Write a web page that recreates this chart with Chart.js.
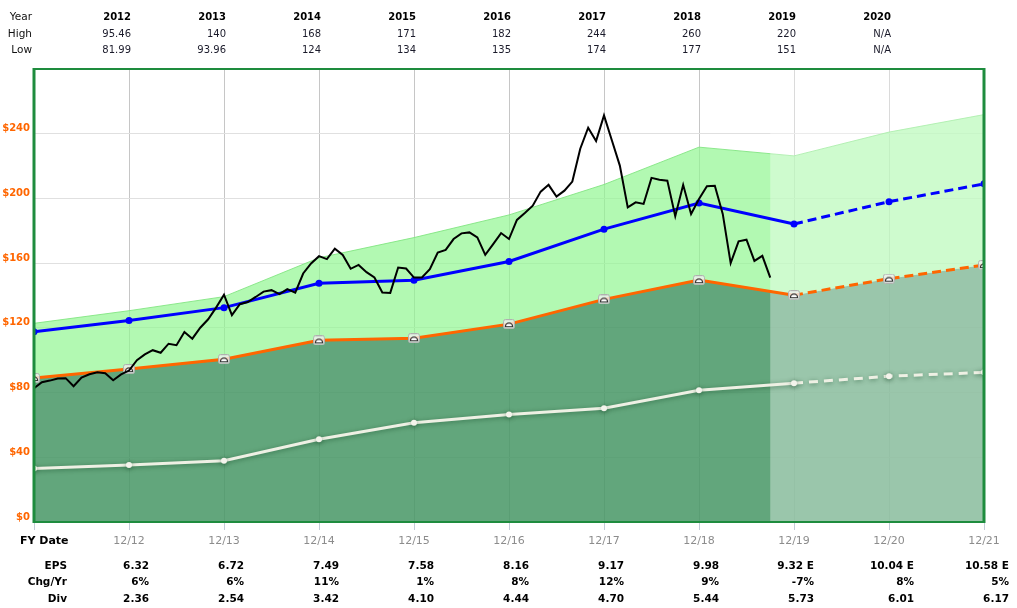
<!DOCTYPE html>
<html>
<head>
<meta charset="utf-8">
<script src="https://cdn.jsdelivr.net/npm/chart.js@4.4.1/dist/chart.umd.min.js"></script>
<style>
  html, body { margin: 0; padding: 0; background: #fff; }
  #wrap { position: relative; width: 1017px; height: 608px; }
</style>
</head>
<body>
<div id="wrap"><canvas id="c"></canvas></div>
<script>
// ---------- data ----------
const fyLabels = ['12/11','12/12','12/13','12/14','12/15','12/16','12/17','12/18','12/19','12/20','12/21'];
const topYears = ['2012','2013','2014','2015','2016','2017','2018','2019','2020'];
const topHigh  = ['95.46','140','168','171','182','244','260','220','N/A'];
const topLow   = ['81.99','93.96','124','134','135','174','177','151','N/A'];
const epsLabels = ['6.32','6.72','7.49','7.58','8.16','9.17','9.98','9.32 E','10.04 E','10.58 E'];
const chgLabels = ['6%','6%','11%','1%','8%','12%','9%','-7%','8%','5%'];
const divLabels = ['2.36','2.54','3.42','4.10','4.44','4.70','5.44','5.73','6.01','6.17'];
const firstEstimate = 8; // index of 12/19 in fyLabels

const bandTop    = [122.8,130.6,139.3,163.3,175.8,189.8,208.6,231.7,226.3,241.0,251.8];
const normalPE   = [117.6,124.5,132.5,147.6,149.5,161.0,181.0,197.2,184.2,198.0,209.0];
const earnings15 = [89.0,94.5,100.6,112.3,113.6,122.3,137.6,149.5,140.2,150.4,158.8];
const dividends  = [33.0,35.3,37.9,51.1,61.4,66.5,70.3,81.4,85.8,90.1,92.5];
// monthly closing price, starting 12/11
const priceVals = [82.7,86.4,87.4,88.7,88.9,83.9,89.3,91.3,92.6,92.0,
  87.6,91.2,93.6,100.0,103.6,106.2,104.6,110.2,109.3,117.4,
  113.3,120.1,125.3,132.5,140.5,127.9,134.6,136.0,139.1,142.4,
  143.3,140.8,143.9,141.8,153.6,159.8,164.3,162.5,168.9,165.1,
  156.5,158.9,154.4,151.1,141.8,141.6,157.3,156.7,151.1,151.1,
  156.3,166.6,168.2,174.9,178.4,179.0,175.9,165.1,171.8,178.6,
  174.9,186.7,191.0,195.5,204.2,208.4,201.1,204.8,210.4,230.7,
  243.7,235.5,251.3,235.8,220.3,194.5,197.6,196.6,212.7,211.5,
  211.0,189.0,208.4,190.4,199.7,207.6,207.8,190.4,160.0,173.5,
  174.5,161.4,164.5,151.1];
const yTicks = [0,40,80,120,160,200,240];
const yMax = 280;

// ---------- helpers ----------
const FONT = '"DejaVu Sans", Verdana, sans-serif';
const pts = arr => arr.map((v,i) => ({x:i, y:v}));
const pricePts = priceVals.map((v,i) => ({x:i/12, y:v}));
const dashAfter = (dash) => ({ borderDash: c => c.p0DataIndex >= firstEstimate ? dash : undefined });

// dome marker for the earnings line
const marker = (() => {
  const c = document.createElement('canvas'); c.width = 12; c.height = 10;
  const g = c.getContext('2d');
  g.fillStyle = 'rgba(240,240,240,0.8)'; g.strokeStyle = '#b0b0b0'; g.lineWidth = 1;
  g.beginPath(); g.roundRect(0.5,0.5,11,9,2); g.fill(); g.stroke();
  g.beginPath(); g.arc(6,7.5,3.6,Math.PI,0); g.closePath();
  g.fillStyle = '#fff'; g.fill(); g.strokeStyle = '#333'; g.lineWidth = 1.2; g.stroke();
  return c;
})();

const IDX_DARK = 4;
const IDX_WHITE = 3;

const overlayPlugin = {
  id: 'overlay',
  afterDatasetDraw(chart, args) {
    const {ctx, chartArea: a, scales: {x}} = chart;
    if (args.index === IDX_DARK) {
      const x0 = x.getPixelForValue((priceVals.length - 1) / 12);
      ctx.save();
      ctx.fillStyle = 'rgba(255,255,255,0.36)';
      ctx.fillRect(x0, a.top, a.right - x0, a.bottom - a.top);
      ctx.restore();
    }
    if (args.index === IDX_WHITE) ctx.restore();
  },
  beforeDatasetDraw(chart, args) {
    if (args.index === IDX_WHITE) {
      const ctx = chart.ctx;
      ctx.save();
      ctx.shadowColor = 'rgba(0,50,20,0.45)';
      ctx.shadowBlur = 5;
      ctx.shadowOffsetY = 1;
    }
  }
};

const framePlugin = {
  id: 'frame',
  afterDatasetsDraw(chart) {
    const {ctx, chartArea: a} = chart;
    ctx.save();
    ctx.strokeStyle = '#1e8c3e';
    ctx.lineWidth = 2;
    ctx.beginPath();
    ctx.moveTo(a.left, a.top); ctx.lineTo(a.right, a.top);
    ctx.moveTo(a.left, a.bottom); ctx.lineTo(a.right, a.bottom);
    ctx.stroke();
    ctx.lineWidth = 3;
    ctx.beginPath();
    ctx.moveTo(a.left, a.top - 1); ctx.lineTo(a.left, a.bottom + 1);
    ctx.moveTo(a.right, a.top - 1); ctx.lineTo(a.right, a.bottom + 1);
    ctx.stroke();
    ctx.restore();
  }
};

const tablePlugin = {
  id: 'tables',
  afterDraw(chart) {
    const {ctx, scales: {x}} = chart;
    ctx.save();
    ctx.textBaseline = 'middle';
    // top table
    ctx.textAlign = 'right';
    ctx.fillStyle = '#111';
    ctx.font = '10.5px ' + FONT;
    ctx.fillText('Year', 32, 17.5);
    ctx.fillText('High', 32, 34);
    ctx.fillText('Low', 32, 50);
    topYears.forEach((yr, i) => {
      const px = x.getPixelForValue(i + 1) + 2;
      ctx.font = 'bold 10px ' + FONT; ctx.fillStyle = '#000';
      ctx.fillText(yr, px, 17.5);
      ctx.font = '10px ' + FONT; ctx.fillStyle = '#1a1a2a';
      ctx.fillText(topHigh[i], px, 34);
      ctx.fillText(topLow[i], px, 50);
    });
    // bottom table
    ctx.fillStyle = '#000';
    ctx.font = 'bold 11px ' + FONT;
    ctx.textAlign = 'left';
    ctx.fillText('FY Date', 20, 541);
    ctx.textAlign = 'right';
    ctx.font = 'bold 10.5px ' + FONT;
    ctx.fillText('EPS', 67, 566);
    ctx.fillText('Chg/Yr', 67, 582.5);
    ctx.fillText('Div', 67, 599);
    epsLabels.forEach((lab, i) => {
      const px = x.getPixelForValue(i + 1) + (i + 1 >= 9 ? 25 : 20);
      ctx.fillText(lab, px, 566);
      ctx.fillText(chgLabels[i], px, 582.5);
      ctx.fillText(divLabels[i], px, 599);
    });
    ctx.restore();
  }
};

new Chart(document.getElementById('c'), {
  type: 'line',
  data: {
    datasets: [
      { label: 'Price', data: pricePts, borderColor: '#000', borderWidth: 2,
        pointRadius: 0, tension: 0, fill: false, order: 0 },
      { label: 'Normal PE', data: pts(normalPE), borderColor: '#0000ff', borderWidth: 3,
        pointRadius: 3.5, pointBackgroundColor: '#0000ff', pointBorderWidth: 0,
        segment: dashAfter([9,5]), fill: false, order: 1 },
      { label: 'Earnings', data: pts(earnings15), borderColor: '#ff6600', borderWidth: 3,
        pointStyle: marker, pointRadius: 5, segment: dashAfter([9,5]), fill: false, order: 2 },
      { label: 'Dividends', data: pts(dividends), borderColor: '#eef0e4', borderWidth: 3,
        pointRadius: 3, pointBackgroundColor: '#f4f4ec', pointBorderWidth: 0,
        segment: dashAfter([9,6]), fill: false, order: 3 },
      { label: 'EarningsFill', data: pts(earnings15), borderWidth: 0, borderColor: 'rgba(0,0,0,0)',
        pointRadius: 0, backgroundColor: 'rgba(70,151,101,0.85)', fill: 'origin', order: 8 },
      { label: 'Band', data: pts(bandTop), borderWidth: 1, borderColor: 'rgba(130,230,130,0.9)',
        pointRadius: 0, backgroundColor: 'rgba(145,246,145,0.7)', fill: { target: IDX_DARK }, order: 9 }
    ]
  },
  options: {
    responsive: true,
    maintainAspectRatio: false,
    animation: false,
    devicePixelRatio: 1,
    layout: { padding: { top: 69, right: 33, left: 0, bottom: 0 } },
    plugins: { legend: { display: false }, tooltip: { enabled: false } },
    elements: { line: { tension: 0 } },
    scales: {
      x: {
        type: 'linear', min: 0, max: fyLabels.length - 1,
        afterFit: s => { s.height = 86; },
        afterBuildTicks: s => { s.ticks = fyLabels.map((_, i) => ({ value: i })); },
        ticks: {
          autoSkip: false, maxRotation: 0, padding: 5,
          color: '#8c8c8c', font: { family: FONT, size: 11 },
          callback: v => (v === 0 ? '' : fyLabels[v])
        },
        grid: { color: '#c6c6c6', tickColor: '#c4ccd8', tickLength: 8, lineWidth: 1 },
        border: { display: false }
      },
      y: {
        min: 0, max: yMax,
        afterFit: s => { s.width = 34; },
        afterBuildTicks: s => { s.ticks = yTicks.concat([yMax]).map(v => ({ value: v })); },
        ticks: {
          color: '#ff6600', padding: 4, labelOffset: -5,
          font: { family: FONT, size: 10, weight: 'bold' },
          callback: v => (yTicks.includes(v) ? '$' + v : '')
        },
        grid: { color: '#e0e0e0', drawTicks: false },
        border: { display: false }
      }
    }
  },
  plugins: [overlayPlugin, framePlugin, tablePlugin]
});
</script>
</body>
</html>
